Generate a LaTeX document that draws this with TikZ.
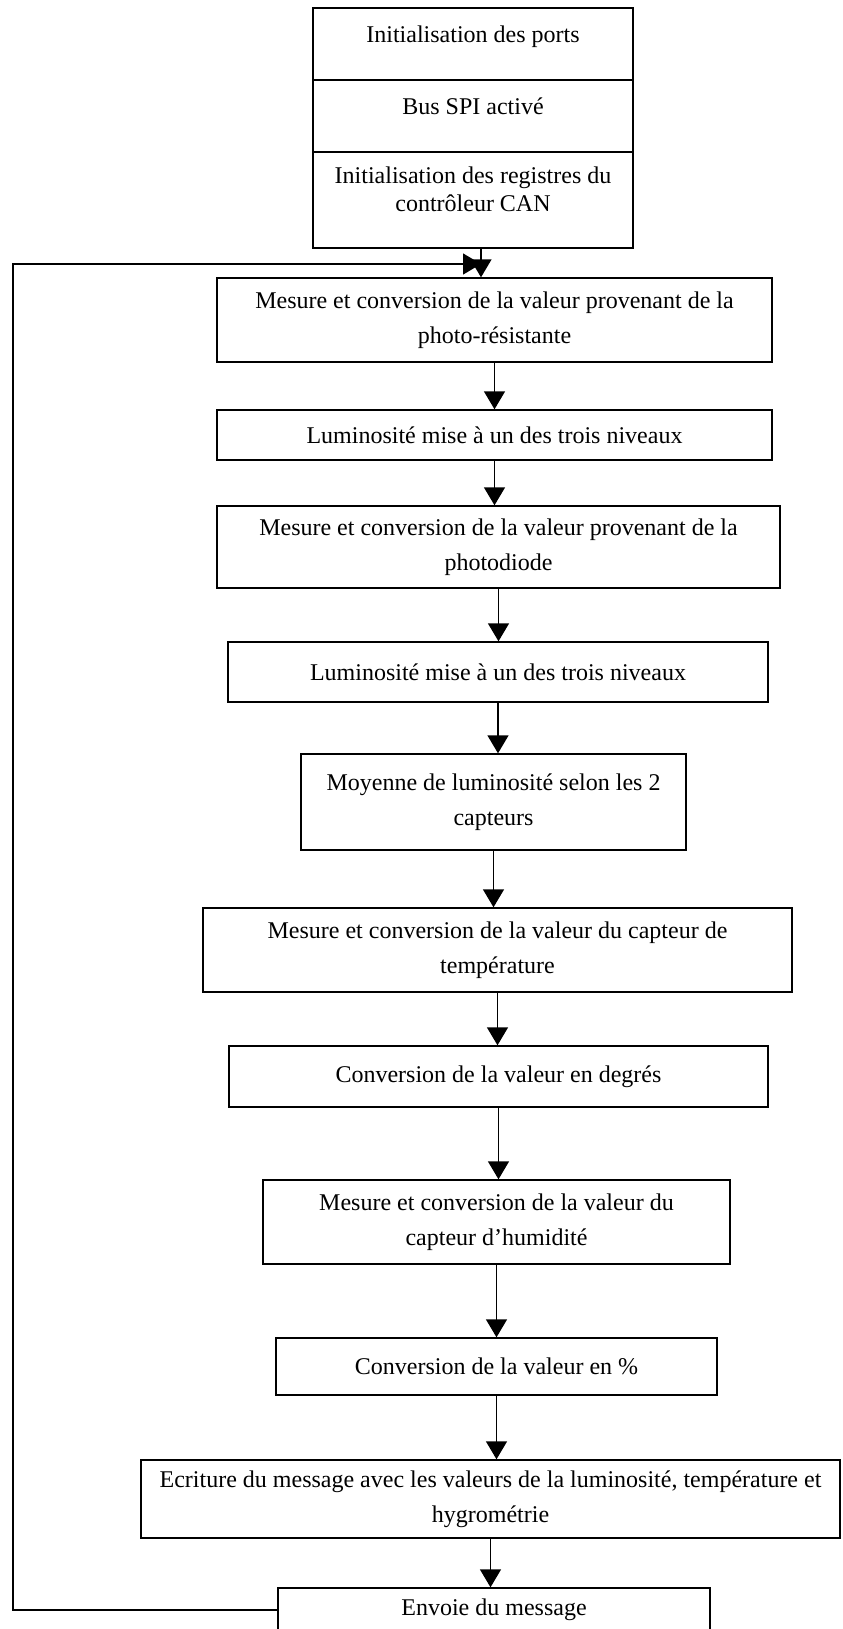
\documentclass[tikz,border=0pt]{standalone}
\usepackage{fontspec}
\setmainfont{Liberation Serif}
\usetikzlibrary{arrows.meta}

\tikzset{
  stage/.style={draw, line width=0.7pt, align=center, inner sep=0pt,
    font=\fontsize{12}{17.5}\selectfont},
  flow/.style={line width=0.7pt, -{Triangle[length=9pt, width=10.5pt]}}
}

\begin{document}
\begin{tikzpicture}[x=0.5pt, y=-0.5pt]
  \useasboundingbox (0,0) rectangle (842,1629);
  % initialisation block
  \node[stage, minimum width=160pt, minimum height=36pt, text depth=9.6pt] (ports) at (473,44) {Initialisation des ports};
  \node[stage, minimum width=160pt, minimum height=36pt, text depth=9.6pt] (spi) at (473,116) {Bus SPI activé};
  \node[stage, minimum width=160pt, minimum height=48pt, text depth=10.5pt,
    font=\fontsize{12}{14}\selectfont] (regs) at (473,200) {Initialisation des registres du\\contrôleur CAN};
  % main loop
  \node[stage, minimum width=277.5pt, minimum height=42pt] (photoR) at (494.5,320) {Mesure et conversion de la valeur provenant de la\\photo-résistante};
  \node[stage, minimum width=277.5pt, minimum height=25pt] (lumR) at (494.5,435) {Luminosité mise à un des trois niveaux};
  \node[stage, minimum width=281.5pt, minimum height=41pt] (photoD) at (498.5,547) {Mesure et conversion de la valeur provenant de la\\photodiode};
  \node[stage, minimum width=270pt, minimum height=30pt] (lumD) at (498,672) {Luminosité mise à un des trois niveaux};
  \node[stage, minimum width=192.5pt, minimum height=48pt] (moy) at (493.5,802) {Moyenne de luminosité selon les 2\\capteurs};
  \node[stage, minimum width=294.5pt, minimum height=42pt] (temp) at (497.5,950) {Mesure et conversion de la valeur du capteur de\\température};
  \node[stage, minimum width=269.5pt, minimum height=30.5pt] (deg) at (498.5,1076.5) {Conversion de la valeur en degrés};
  \node[stage, minimum width=233.5pt, minimum height=42pt] (hum) at (496.5,1222) {Mesure et conversion de la valeur du\\capteur d’humidité};
  \node[stage, minimum width=220.5pt, minimum height=28.5pt] (pct) at (496.5,1366.5) {Conversion de la valeur en \%};
  \node[stage, minimum width=349.5pt, minimum height=39pt] (ecr) at (490.5,1499) {Ecriture du message avec les valeurs de la luminosité, température et\\hygrométrie};
  \node[stage, minimum width=216pt, minimum height=22pt] (env) at (494,1610) {Envoie du message};

  \draw[flow] ([xshift=4pt]regs.south) -- ([xshift=4pt]regs.south |- photoR.north);
  \foreach \a/\b in {photoR/lumR, lumR/photoD, photoD/lumD, lumD/moy, moy/temp,
                     temp/deg, deg/hum, hum/pct, pct/ecr, ecr/env}
    \draw[flow] (\a.south) -- (\a.south |- \b.north);

  % back to the first measure
  \coordinate (loopL) at (13,264);
  \coordinate (loopR) at (481,264);
  \draw[flow] (env.west) -| (loopL) -- (loopR);
\end{tikzpicture}
\end{document}
